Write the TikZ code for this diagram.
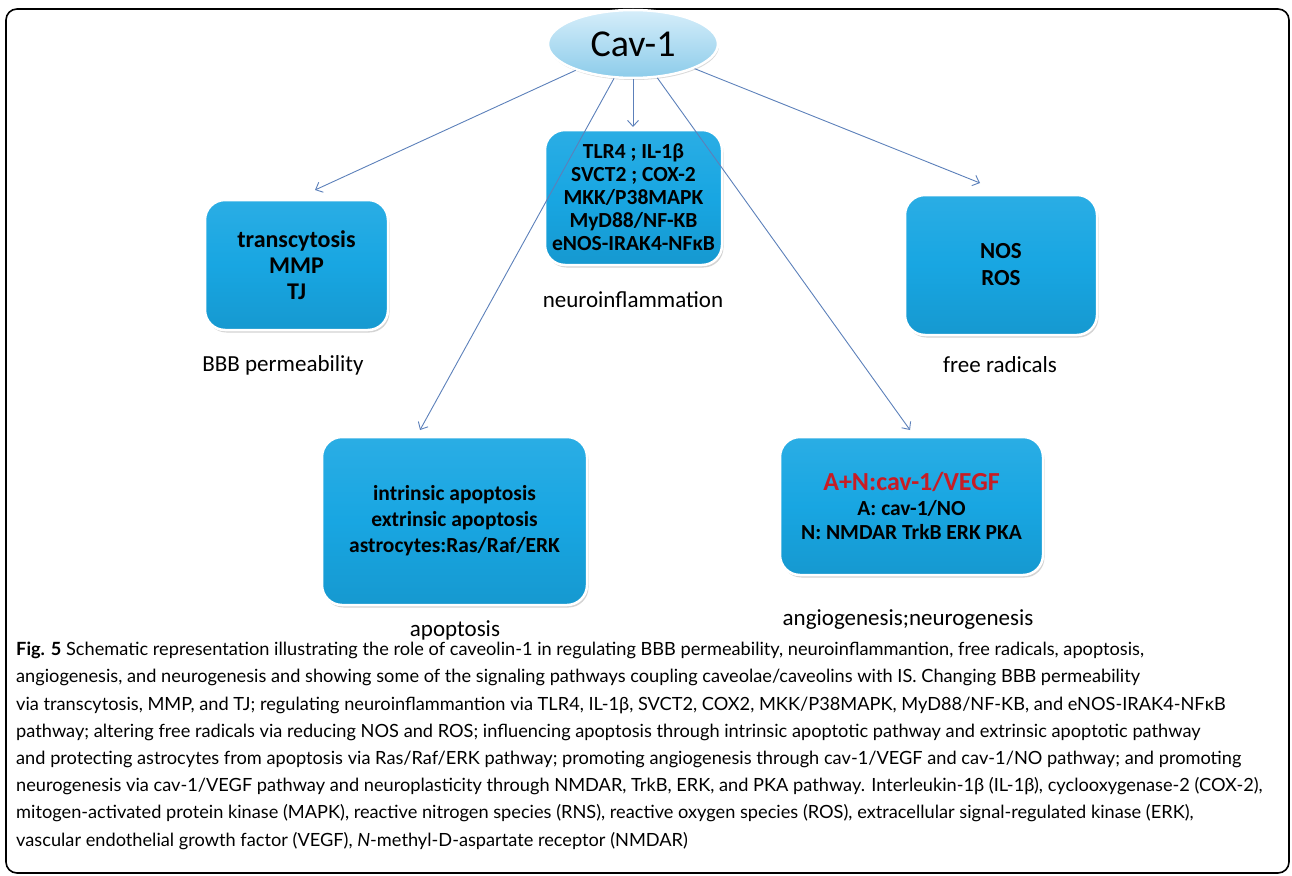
\documentclass[tikz,border=0pt]{standalone}
\usepackage{fontspec}
\setmainfont{Carlito}
\newfontfamily\captionfont{Lato}
\usetikzlibrary{shapes.geometric,shadows,arrows.meta}
\definecolor{boxblue}{RGB}{24,166,226}
\definecolor{cavlight}{RGB}{214,238,250}
\definecolor{cavdark}{RGB}{140,204,234}
\definecolor{linkblue}{RGB}{92,128,186}
\definecolor{keyred}{RGB}{200,28,36}
\tikzset{
  pathbox/.style={rectangle, draw=white, line width=2.5pt, rounded corners=20pt,
    top color=boxblue!92!white, bottom color=boxblue!92!black, middle color=boxblue,
    drop shadow={shadow xshift=1.5pt, shadow yshift=-2.5pt, opacity=0.35},
    align=center, inner sep=0pt, font=\bfseries},
  tag/.style={font=\fontsize{23}{26}\selectfont, inner sep=0pt},
  link/.style={-{Straight Barb[length=6pt,width=11pt]}, draw=linkblue, line width=0.9pt}
}
\begin{document}
\begin{tikzpicture}[x=1pt,y=-1pt]
    \useasboundingbox (0,0) rectangle (1292,875);
    %Frame
    \draw[line width=1.6pt, rounded corners=11pt] (6,9) rectangle (1289,873);
    %Cav-1
    \node (cav) [ellipse, minimum width=170pt, minimum height=68pt, draw=white, line width=2.5pt,
        top color=cavlight, bottom color=cavdark,
        drop shadow={shadow xshift=1pt, shadow yshift=-2pt, opacity=0.3},
        font=\fontsize{38}{40}\selectfont] at (633,44) {Cav-1};
    %BBB permeability
    \node (bbb) [pathbox, minimum width=183pt, minimum height=130pt,
        font=\fontsize{24}{26}\selectfont\bfseries] at (296.5,265) {transcytosis\\MMP\\TJ};
    \node (bbbtag) [tag] at (283,365) {BBB permeability};
    %Neuroinflammation
    \node (inflam) [pathbox, minimum width=177pt, minimum height=135pt,
        font=\fontsize{21.5}{23}\selectfont\bfseries] at (633.5,197.5)
        {TLR4 ; IL-1β\\SVCT2 ; COX-2\\MKK/P38MAPK\\MyD88/NF-KB\\eNOS-IRAK4-NFκB};
    \node (inflamtag) [tag] at (633,300) {neuroinflammation};
    %Free radicals
    \node (radic) [pathbox, minimum width=192pt, minimum height=140pt,
        font=\fontsize{23}{27}\selectfont\bfseries] at (1001,265) {NOS\\ROS};
    \node (radictag) [tag] at (1000,365) {free radicals};
    %Apoptosis
    \node (apop) [pathbox, minimum width=265pt, minimum height=168pt,
        font=\fontsize{21.5}{26}\selectfont\bfseries] at (454.5,521)
        {intrinsic apoptosis\\extrinsic apoptosis\\astrocytes:Ras/Raf/ERK};
    \node (apoptag) [tag] at (455,630) {apoptosis};
    %Angiogenesis / neurogenesis
    \node (angio) [pathbox, minimum width=263pt, minimum height=138pt,
        font=\fontsize{21.5}{24.5}\selectfont\bfseries] at (911.5,506)
        {{\fontsize{26}{26}\selectfont\color{keyred}A+N:cav-1/VEGF}\\A: cav-1/NO\\N: NMDAR TrkB ERK PKA};
    \node (angiotag) [tag] at (908,620) {angiogenesis;neurogenesis};
    %Links
    \coordinate (bbbend) at (315,190);
    \coordinate (inflamend) at (633,127);
    \coordinate (radicend) at (980,183);
    \coordinate (apopend) at (420,430);
    \coordinate (angioend) at (910,430);
    \draw[link] (cav) -- (bbbend);
    \draw[link] (cav) -- (inflamend);
    \draw[link] (cav) -- (radicend);
    \draw[link] (cav) -- (apopend);
    \draw[link] (cav) -- (angioend);
    %Caption
    \node (caption) [anchor=north west, align=left, inner sep=0pt,
        font=\captionfont\fontsize{18.2}{27.2}\selectfont] at (16,642)
        {\textbf{Fig. 5} Schematic representation illustrating the role of caveolin-1 in regulating BBB permeability, neuroinflammantion, free radicals, apoptosis,\\
        angiogenesis, and neurogenesis and showing some of the signaling pathways coupling caveolae/caveolins with IS. Changing BBB permeability\\
        via transcytosis, MMP, and TJ; regulating neuroinflammantion via TLR4, IL-1β, SVCT2, COX2, MKK/P38MAPK, MyD88/NF-KB, and eNOS-IRAK4-NFκB\\
        pathway; altering free radicals via reducing NOS and ROS; influencing apoptosis through intrinsic apoptotic pathway and extrinsic apoptotic pathway\\
        and protecting astrocytes from apoptosis via Ras/Raf/ERK pathway; promoting angiogenesis through cav-1/VEGF and cav-1/NO pathway; and promoting\\
        neurogenesis via cav-1/VEGF pathway and neuroplasticity through NMDAR, TrkB, ERK, and PKA pathway. Interleukin-1β (IL-1β), cyclooxygenase-2 (COX-2),\\
        mitogen-activated protein kinase (MAPK), reactive nitrogen species (RNS), reactive oxygen species (ROS), extracellular signal-regulated kinase (ERK),\\
        vascular endothelial growth factor (VEGF), \textit{N}-methyl-D-aspartate receptor (NMDAR)};
\end{tikzpicture}
\end{document}
